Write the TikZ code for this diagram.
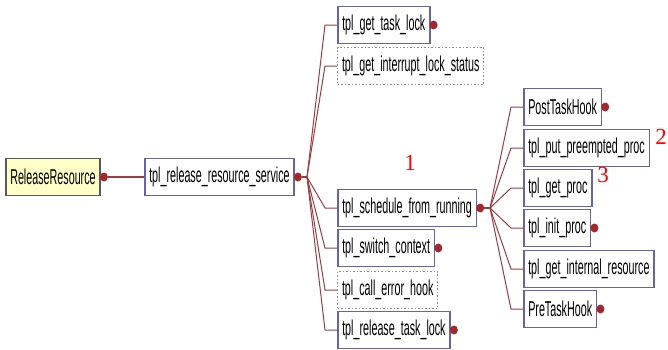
\documentclass[tikz,border=0pt]{standalone}
\usepackage{fontspec}
\usetikzlibrary{shapes.geometric}
\setmainfont{Liberation Sans}
\newfontfamily\boxfont[FakeStretch=0.5]{Liberation Sans}
\newfontfamily\numfont{Liberation Serif}
\definecolor{boxblue}{HTML}{6464AE}
\definecolor{stubgray}{HTML}{8A8AA0}
\definecolor{rootfill}{HTML}{FFFFC8}
\definecolor{dotred}{HTML}{A3282C}
\definecolor{edgered}{HTML}{9A3C40}
\begin{document}
\begin{tikzpicture}[x=1pt,y=-1pt,
  fnbox/.style={draw=boxblue,line width=1.5pt,fill=white,minimum height=37pt,
    inner xsep=4.5pt,anchor=west,font=\boxfont\fontsize{21.5}{21.5}\selectfont},
  stubbox/.style={fnbox,draw=stubgray,dotted,line width=1pt},
  rootbox/.style={fnbox,draw=gray!70!black,fill=rootfill},
  dot/.style={ellipse,fill=dotred,inner sep=0pt,minimum width=8pt,minimum height=9pt},
  link/.style={draw=edgered,line width=1pt},
  mark num/.style={text=red,font=\numfont\fontsize{23}{23}\selectfont}]
\useasboundingbox (0,0) rectangle (668,349);
\node[rootbox] (root) at (5,177) {ReleaseResource};
\node[dot] (rootd) at ([xshift=3pt]root.east) {};
\node[fnbox] (svc) at (144,177) {tpl\_release\_resource\_service};
\node[dot] (svcd) at ([xshift=3pt]svc.east) {};
\draw[link,line width=1.5pt] (rootd) -- (svc);
\coordinate (hub1) at (307,177);
\draw[link,line width=2.5pt] (svcd) -- (hub1);

\node[fnbox] (lock) at (337,25) {tpl\_get\_task\_lock};
\node[stubbox] (irq) at (337,66) {tpl\_get\_interrupt\_lock\_status};
\node[fnbox] (sched) at (337,208) {tpl\_schedule\_from\_running};
\node[fnbox] (switch) at (337,248) {tpl\_switch\_context};
\node[stubbox] (err) at (337,290) {tpl\_call\_error\_hook};
\node[fnbox] (rel) at (337,330) {tpl\_release\_task\_lock};
\foreach \n in {lock,sched,switch,rel}
  \node[dot] (\n d) at ([xshift=3pt]\n.east) {};
\foreach \n in {lock,irq,sched,switch,err,rel}
  \draw[link] (hub1) -- ([xshift=-12pt]\n.west) -- (\n.west);

\coordinate (hub2) at (490,208);
\draw[link,line width=2.5pt] (schedd) -- (hub2);
\node[fnbox] (post) at (523,107) {PostTaskHook};
\node[fnbox] (put) at (523,148) {tpl\_put\_preempted\_proc};
\node[fnbox] (get) at (523,188) {tpl\_get\_proc};
\node[fnbox] (init) at (523,228) {tpl\_init\_proc};
\node[fnbox] (intres) at (523,269) {tpl\_get\_internal\_resource};
\node[fnbox] (pre) at (523,309) {PreTaskHook};
\foreach \n in {post,init,pre}
  \node[dot] (\n d) at ([xshift=3pt]\n.east) {};
\foreach \n in {post,put,get,init,intres,pre}
  \draw[link] (hub2) -- ([xshift=-12pt]\n.west) -- (\n.west);

\node[mark num] (n1) at (410,163) {1};
\node[mark num] (n2) at (661,137) {2};
\node[mark num] (n3) at (603,175) {3};
\end{tikzpicture}
\end{document}
